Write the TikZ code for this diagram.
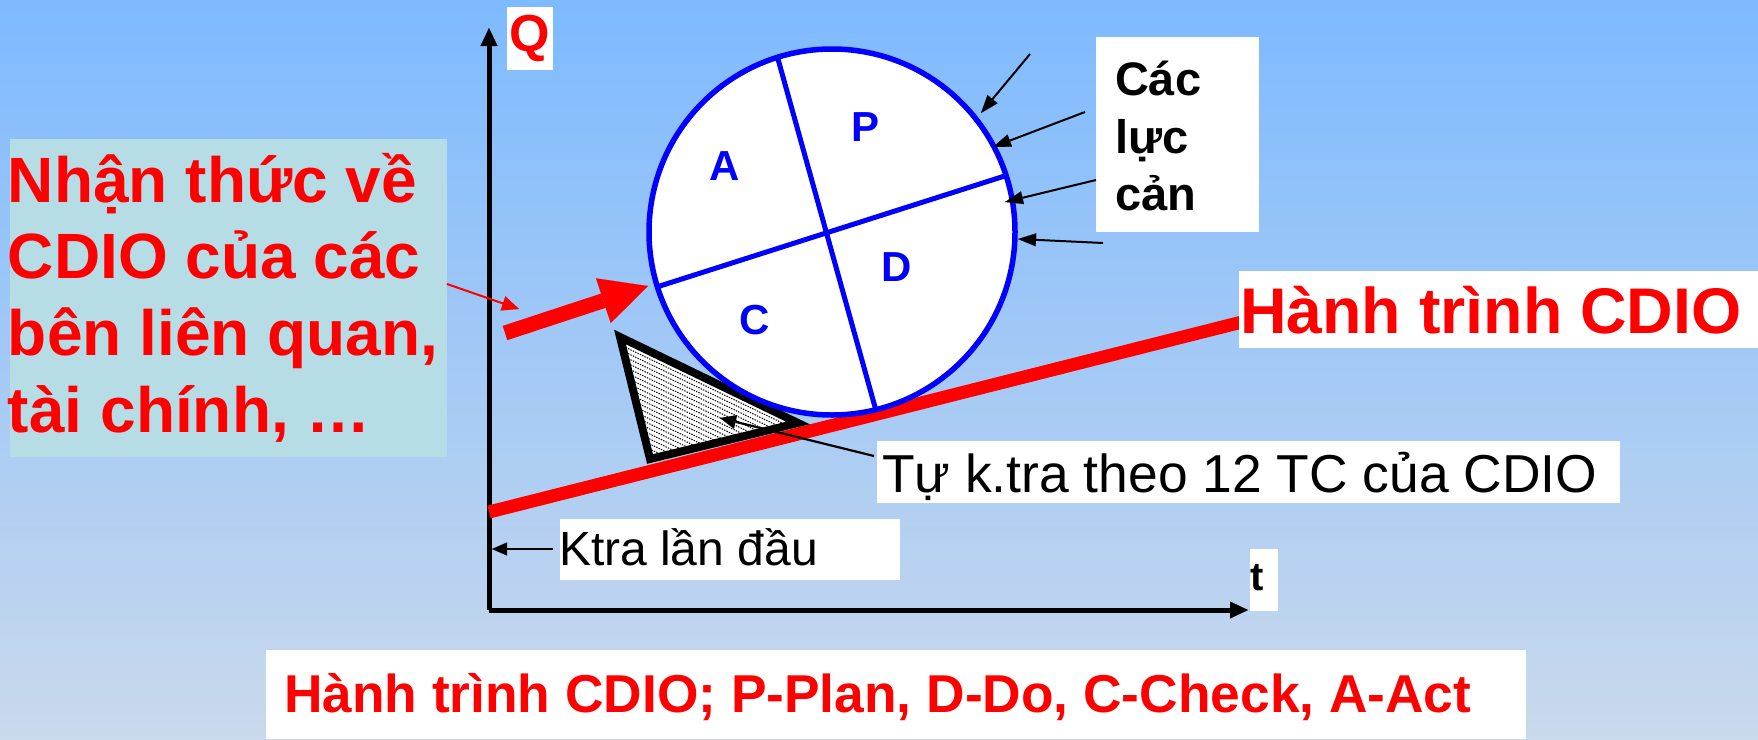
\documentclass[tikz,border=0pt]{standalone}
\usepackage{fontspec}
\setmainfont{Liberation Sans}
\usetikzlibrary{arrows.meta}
\definecolor{bgtop}{RGB}{126,186,255}
\definecolor{bgbot}{RGB}{202,217,236}
\definecolor{leftbg}{RGB}{182,220,230}
\definecolor{cred}{RGB}{255,0,0}
\definecolor{cblue}{RGB}{0,0,255}
\newcommand\fs[1]{\fontsize{#1pt}{#1pt}\selectfont}
\tikzset{
  wbox/.style={fill=white, draw=none, inner sep=0pt, outer sep=0pt, anchor=north west},
  txt/.style={inner sep=0pt, outer sep=0pt, anchor=base west},
  bigred/.style={txt, text=cred, font=\fs{64}\bfseries},
  capred/.style={txt, text=cred, font=\fs{53.3}\bfseries},
  blacklbl/.style={txt, text=black, font=\fs{53.4}},
  letter/.style={inner sep=0pt, text=cblue, font=\fs{42}\bfseries},
  axis/.style={black, line width=5pt, -{Triangle[length=18pt,width=17pt,line width=0.1pt]}},
  force/.style={black, line width=2pt, -{Triangle[length=18pt,width=13pt,line width=0.1pt]}},
  pointer/.style={black, line width=2.2pt, -{Triangle[length=16pt,width=14pt,line width=0.1pt]}},
}
\begin{document}
\begin{tikzpicture}[x=1pt,y=-1pt]
\useasboundingbox (0,0) rectangle (1758,739);
\shade[top color=bgtop, bottom color=bgbot] (0,0) rectangle (1758,739);

% left box
\node[wbox, fill=leftbg, minimum width=437pt, minimum height=318pt] (leftbox) at (10,139) {};
\node[bigred] (l1) at (8,202) {Nhận thức về};
\node[bigred] (l2) at (8,278) {CDIO của các};
\node[bigred] (l3) at (8,355) {bên liên quan,};
\node[bigred] (l4) at (8,432) {tài chính, …};

% axes
\coordinate (O) at (489,610);
\coordinate (ytop) at (489,28);
\coordinate (xend) at (1248,610);
\draw[axis] (O) -- (ytop);
\draw[axis] (O) -- (xend);
\node[wbox, minimum width=46pt, minimum height=63pt] (qbox) at (507,7) {};
\node[inner sep=0pt, text=cred, font=\fs{52}\bfseries] (q) at (qbox.center) {Q};
\node[wbox, minimum width=28pt, minimum height=62pt] (tbox) at (1250,549) {};
\node[txt, font=\fs{40}\bfseries] (t) at (1250,590) {t};

% CDIO journey line
\coordinate (rl0) at (489,512);
\coordinate (rl1) at (1242,322);
\draw[cred, line width=13pt] (rl0) -- (rl1);

% self-check wedge
\coordinate (T1) at (620,337);
\coordinate (T2) at (650,459);
\coordinate (T3) at (798,423);
\begin{scope}
  \clip (T1) -- (T2) -- (T3) -- cycle;
  \fill[white] (T1) -- (T2) -- (T3) -- cycle;
  \foreach \o in {-20,-15,...,150}
    \draw[black, line width=1pt, dash pattern=on 1.4pt off 1.2pt] (600,{330+\o}) -- (830,{330+\o+111});
\end{scope}
\draw[black, line width=8pt, line join=miter] (T1) -- (T2) -- (T3) -- cycle;

% wheel
\node[circle, fill=white, draw=none, minimum size=366pt, inner sep=0pt] (wheel) at (832,232) {};
\coordinate (X) at (826,233);
\begin{scope}
  \clip (832,232) circle (183);
  \draw[cblue, line width=5pt] (766,16) -- (887,450);
  \draw[cblue, line width=5pt] (616,300) -- (1036,166);
\end{scope}
\draw[cblue, line width=5.5pt] (wheel.center) circle (183);
\node[letter] (A) at (725,166) {A};
\node[letter] (P) at (865,127) {P};
\node[letter] (D) at (897,267) {D};
\node[letter] (C) at (755,320) {C};

% push arrows
\coordinate (thin0) at (447,284);
\coordinate (thin1) at (519,309);
\draw[cred, line width=2pt, -{Triangle[length=17pt,width=15pt,line width=0.1pt]}] (thin0) -- (thin1);
\coordinate (thick0) at (505,333);
\coordinate (thick1) at (648,286);
\draw[cred, line width=15pt, -{Triangle[length=47pt,width=47pt,line width=0.1pt]}] (thick0) -- (thick1);

% resisting forces
\node[wbox, minimum width=163pt, minimum height=195pt] (forcebox) at (1096,37) {};
\node[txt, font=\fs{47}\bfseries] (f1) at (1115,95) {Các};
\node[txt, font=\fs{47}\bfseries] (f2) at (1115,153) {lực};
\node[txt, font=\fs{47}\bfseries] (f3) at (1115,210) {cản};
\coordinate (a1s) at (1030,54);  \coordinate (a1e) at (981,113);
\coordinate (a2s) at (1085,112); \coordinate (a2e) at (993,147);
\coordinate (a3s) at (1096,180); \coordinate (a3e) at (1005,202);
\coordinate (a4s) at (1103,243); \coordinate (a4e) at (1018,239);
\draw[force] (a1s) -- (a1e);
\draw[force] (a2s) -- (a2e);
\draw[force] (a3s) -- (a3e);
\draw[force] (a4s) -- (a4e);

% journey label
\node[wbox, minimum width=519pt, minimum height=77pt] (jbox) at (1239,271) {};
\node[txt, text=cred, font=\fs{64.5}\bfseries] (jlbl) at (1240,333) {Hành trình CDIO};

% self-check label
\node[wbox, minimum width=743pt, minimum height=62pt] (sbox) at (877,441) {};
\node[blacklbl] (slbl) at (882,492) {Tự k.tra theo 12 TC của CDIO};
\coordinate (stip) at (720,418);
\draw[pointer] (874,456) -- (stip);

% first check label
\node[wbox, minimum width=340pt, minimum height=61pt] (kbox) at (560,519) {};
\node[txt, font=\fs{48}] (klbl) at (559,565) {Ktra lần đầu};
\coordinate (ktip) at (492,549);
\draw[black, line width=2pt, -{Triangle[length=15pt,width=13pt,line width=0.1pt]}] (553,549) -- (ktip);

% caption
\node[wbox, minimum width=1260pt, minimum height=89pt] (capbox) at (266,650) {};
\node[capred] (cap) at (284,712) {Hành trình CDIO; P-Plan, D-Do, C-Check, A-Act};
\end{tikzpicture}
\end{document}
